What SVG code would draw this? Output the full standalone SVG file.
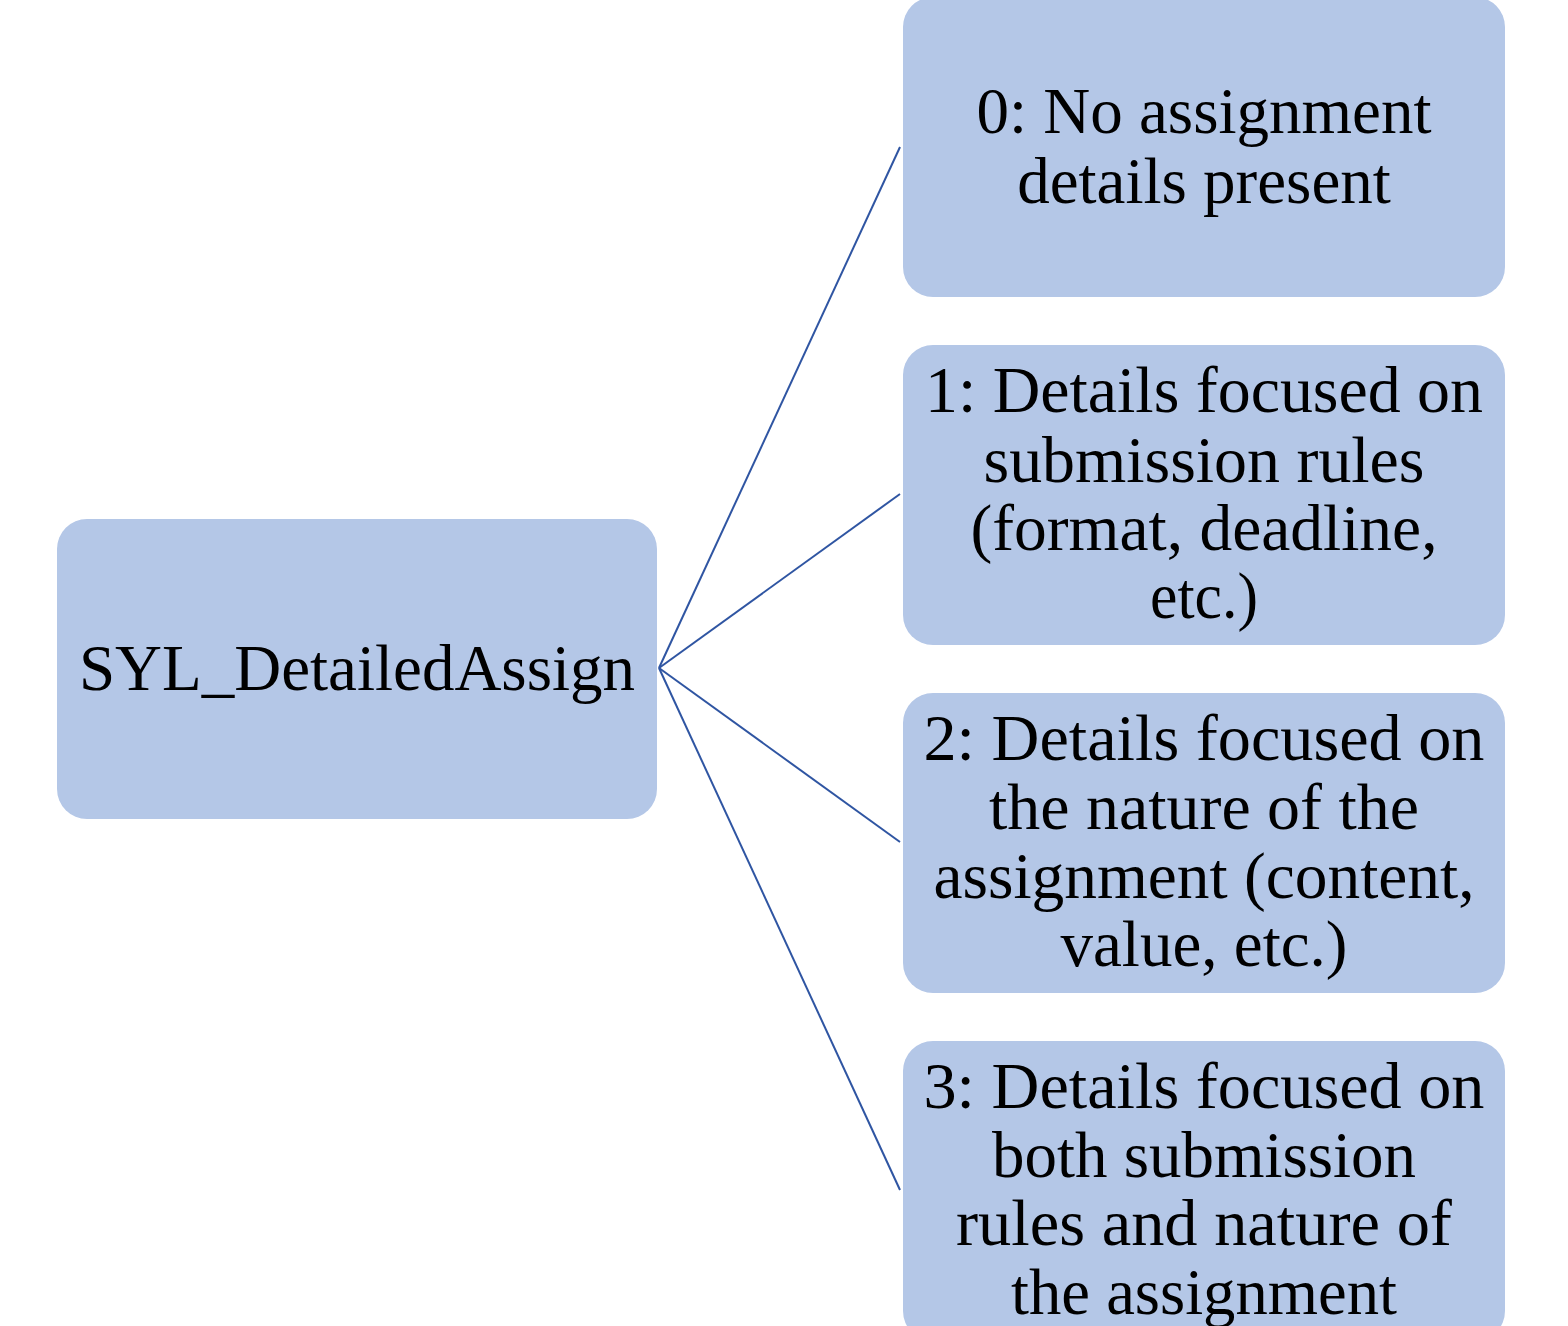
<svg xmlns="http://www.w3.org/2000/svg" width="1568" height="1326" viewBox="0 0 1568 1326">
<style>
.box{fill:#b4c7e7;}
.t{font-family:"Liberation Serif","Times New Roman",serif;font-size:65px;fill:#000;text-anchor:middle;}
.c{stroke:#2f55a2;stroke-width:2;fill:none;}
</style>
<rect width="1568" height="1326" fill="#ffffff"/>
<g id="connectors">
<line class="c" x1="659" y1="668" x2="900" y2="147"/>
<line class="c" x1="659" y1="668" x2="900" y2="494"/>
<line class="c" x1="659" y1="668" x2="900" y2="842"/>
<line class="c" x1="659" y1="668" x2="900" y2="1190"/>
</g>
<g id="root">
<rect class="box" x="57" y="519" width="600" height="300" rx="30"/>
<text class="t" x="357" y="690">SYL_DetailedAssign</text>
</g>
<g id="n0">
<rect class="box" x="903" y="-3" width="602" height="300" rx="30"/>
<text class="t" x="1204" y="133">0: No assignment</text>
<text class="t" x="1204" y="203">details present</text>
</g>
<g id="n1">
<rect class="box" x="903" y="345" width="602" height="300" rx="30"/>
<text class="t" x="1204" y="412" textLength="558" lengthAdjust="spacingAndGlyphs">1: Details focused on</text>
<text class="t" x="1204" y="482" textLength="441" lengthAdjust="spacingAndGlyphs">submission rules</text>
<text class="t" x="1204" y="550" textLength="467" lengthAdjust="spacingAndGlyphs">(format, deadline,</text>
<text class="t" x="1204" y="618" textLength="108" lengthAdjust="spacingAndGlyphs">etc.)</text>
</g>
<g id="n2">
<rect class="box" x="903" y="693" width="602" height="300" rx="30"/>
<text class="t" x="1204" y="760" textLength="561" lengthAdjust="spacingAndGlyphs">2: Details focused on</text>
<text class="t" x="1204" y="829" textLength="430" lengthAdjust="spacingAndGlyphs">the nature of the</text>
<text class="t" x="1204" y="898" textLength="541" lengthAdjust="spacingAndGlyphs">assignment (content,</text>
<text class="t" x="1204" y="966" textLength="287" lengthAdjust="spacingAndGlyphs">value, etc.)</text>
</g>
<g id="n3">
<rect class="box" x="903" y="1041" width="602" height="300" rx="30"/>
<text class="t" x="1204" y="1108" textLength="561" lengthAdjust="spacingAndGlyphs">3: Details focused on</text>
<text class="t" x="1204" y="1177" textLength="424" lengthAdjust="spacingAndGlyphs">both submission</text>
<text class="t" x="1204" y="1245" textLength="496" lengthAdjust="spacingAndGlyphs">rules and nature of</text>
<text class="t" x="1204" y="1314" textLength="386" lengthAdjust="spacingAndGlyphs">the assignment</text>
</g>
</svg>
